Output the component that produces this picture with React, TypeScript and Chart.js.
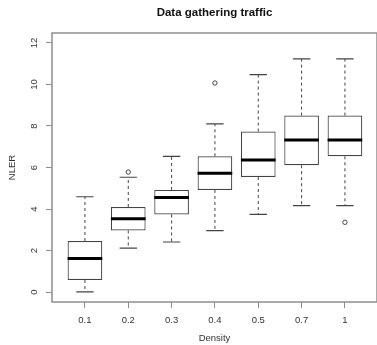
import React, { useEffect, useRef } from "react";
import { Chart, registerables } from "chart.js";

Chart.register(...registerables);

// ---- data ----
const categories = ["0.1", "0.2", "0.3", "0.4", "0.5", "0.7", "1"];
const whiskerLow = [0.01, 2.12, 2.41, 2.96, 3.74, 4.16, 4.16];
const q1 = [0.58, 2.97, 3.74, 4.92, 5.54, 6.11, 6.54];
const medians = [1.61, 3.53, 4.55, 5.72, 6.36, 7.33, 7.33];
const q3 = [2.46, 4.1, 4.92, 6.54, 7.73, 8.5, 8.5];
const whiskerHigh = [4.59, 5.53, 6.54, 8.1, 10.47, 11.23, 11.23];
const outlierCategory = ["0.2", "0.4", "1"];
const outlierValues = [5.78, 10.07, 3.36];
const yTicks = [0, 2, 4, 6, 8, 10, 12];

const FONT = "'Liberation Sans', Arial, Helvetica, sans-serif";
const BOX_HALF = 0.4;
const CAP_HALF = 0.2;

const framePlugin = {
  id: "frame",
  afterDatasetsDraw(chart: any) {
    const { ctx, chartArea } = chart;
    const { left, top, right, bottom } = chartArea;
    ctx.save();
    ctx.strokeStyle = "#8f8f8f";
    ctx.lineWidth = 1.5;
    ctx.strokeRect(left, top, right - left, bottom - top);
    ctx.restore();
  },
};

export default function App() {
  const ref = useRef<HTMLCanvasElement | null>(null);

  useEffect(() => {
    if (!ref.current) return;
    const pos = categories.map((_, i) => i + 1);

    const boxData = pos.map((x, i) => ({ x, y: [q1[i], q3[i]] }));
    const whiskerData: any[] = [];
    const capData: any[] = [];
    const medianData: any[] = [];
    pos.forEach((x, i) => {
      whiskerData.push({ x, y: q3[i] }, { x, y: whiskerHigh[i] }, { x, y: null });
      whiskerData.push({ x, y: q1[i] }, { x, y: whiskerLow[i] }, { x, y: null });
      capData.push({ x: x - CAP_HALF, y: whiskerHigh[i] }, { x: x + CAP_HALF, y: whiskerHigh[i] }, { x, y: null });
      capData.push({ x: x - CAP_HALF, y: whiskerLow[i] }, { x: x + CAP_HALF, y: whiskerLow[i] }, { x, y: null });
      medianData.push({ x: x - BOX_HALF, y: medians[i] }, { x: x + BOX_HALF, y: medians[i] }, { x, y: null });
    });
    const outlierData = outlierCategory.map((c, i) => ({
      x: categories.indexOf(c) + 1,
      y: outlierValues[i],
    }));

    const chart = new Chart(ref.current, {
      type: "bar",
      data: {
        datasets: [
          {
            type: "line",
            data: medianData,
            borderColor: "#000",
            borderWidth: 3,
            pointRadius: 0,
            spanGaps: false,
            order: 0,
          } as any,
          {
            type: "line",
            data: capData,
            borderColor: "#444",
            borderWidth: 1.2,
            pointRadius: 0,
            spanGaps: false,
            order: 1,
          } as any,
          {
            type: "line",
            data: whiskerData,
            borderColor: "#444",
            borderWidth: 1,
            borderDash: [3, 3],
            pointRadius: 0,
            spanGaps: false,
            order: 1,
          } as any,
          {
            type: "scatter",
            data: outlierData,
            pointStyle: "circle",
            pointRadius: 2.2,
            borderColor: "#444",
            backgroundColor: "rgba(0,0,0,0)",
            borderWidth: 1,
            order: 1,
          } as any,
          {
            type: "bar",
            data: boxData,
            backgroundColor: "#ffffff",
            borderColor: "#444",
            borderWidth: 1.2,
            borderSkipped: false,
            barPercentage: 0.8,
            categoryPercentage: 1,
            order: 2,
          } as any,
        ],
      },
      options: {
        responsive: false,
        animation: false,
        devicePixelRatio: 1,
        layout: { padding: 0, autoPadding: false },
        plugins: {
          legend: { display: false },
          tooltip: { enabled: false },
          title: {
            display: true,
            text: "Data gathering traffic",
            fullSize: false,
            color: "#111",
            font: { family: FONT, size: 11.5, weight: "bold", lineHeight: 1.2 },
            padding: { top: 6, bottom: 13.2 },
          },
        },
        scales: {
          x: {
            type: "linear",
            min: 0.24,
            max: 7.74,
            offset: false,
            afterBuildTicks: (scale: any) => {
              scale.ticks = pos.map((v) => ({ value: v }));
            },
            afterFit: (scale: any) => {
              scale.height = 43;
              scale.paddingLeft = 0;
              scale.paddingRight = 0;
            },
            ticks: {
              autoSkip: false,
              maxRotation: 0,
              minRotation: 0,
              padding: 7,
              color: "#333",
              font: { family: FONT, size: 9.5 },
              callback: (v: any) => categories[Math.round(v) - 1] ?? "",
            },
            grid: {
              display: true,
              drawOnChartArea: false,
              tickLength: 6,
              color: "#8f8f8f",
              tickColor: "#8f8f8f",
              offset: false,
            },
            border: { display: false },
            title: {
              display: true,
              text: "Density",
              color: "#333",
              font: { family: FONT, size: 9.5 },
              padding: { top: 0, bottom: 1 },
            },
          },
          y: {
            type: "linear",
            min: -0.48,
            max: 12.48,
            afterBuildTicks: (scale: any) => {
              scale.ticks = yTicks.map((v) => ({ value: v }));
            },
            afterFit: (scale: any) => {
              scale.width = 52;
              scale.paddingTop = 0;
              scale.paddingBottom = 0;
            },
            ticks: {
              minRotation: 90,
              maxRotation: 90,
              crossAlign: "center",
              padding: 6,
              color: "#333",
              font: { family: FONT, size: 9.5 },
              callback: (v: any) => String(v),
            },
            grid: {
              display: true,
              drawOnChartArea: false,
              tickLength: 6,
              color: "#8f8f8f",
              tickColor: "#8f8f8f",
            },
            border: { display: false },
            title: {
              display: true,
              text: "NLER",
              color: "#333",
              font: { family: FONT, size: 9.5 },
              padding: { top: 7, bottom: 0 },
            },
          },
        },
      } as any,
      plugins: [framePlugin],
    });

    return () => chart.destroy();
  }, []);

  return (
    <div style={{ position: "absolute", left: 0, top: 0, width: 377, height: 345, background: "#fff" }}>
      <canvas ref={ref} width={377} height={345} style={{ display: "block", width: 377, height: 345 }} />
    </div>
  );
}
